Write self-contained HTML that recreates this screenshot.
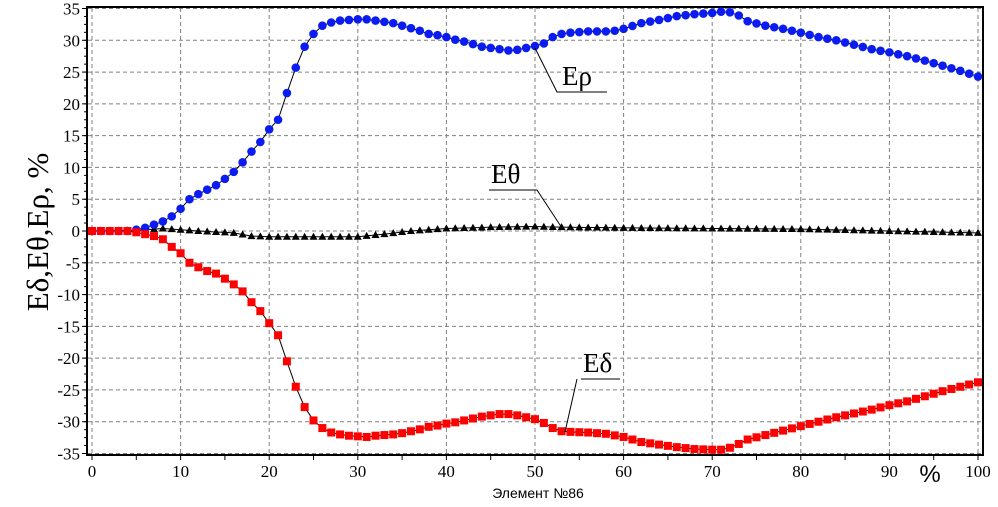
<!DOCTYPE html>
<html><head><meta charset="utf-8"><style>body{margin:0;background:#fff}svg{display:block}</style></head>
<body>
<svg id="s" width="998" height="507" xmlns="http://www.w3.org/2000/svg" font-family="Liberation Serif, serif">
<rect width="998" height="507" fill="#fff"/>
<g id="grid" stroke="#808080" stroke-dasharray="4,3" stroke-width="1"></g>
<rect x="87" y="7" width="896" height="448" fill="none" stroke="#000" stroke-width="2"/>
<g id="ticks" stroke="#000"></g>
<g id="labels" font-size="17" fill="#000"></g>
<g id="series"></g>
<text x="0" y="0" font-size="31" transform="translate(48,232) rotate(-90)" text-anchor="middle">Eδ,Eθ,Eρ, %</text>
<text x="538" y="498" font-size="14" font-family="Liberation Sans, sans-serif" text-anchor="middle">Элемент №86</text>
<text x="930" y="482" font-size="24" text-anchor="middle" font-family="Liberation Sans, sans-serif">%</text>
<g stroke="#000" stroke-width="1" fill="none">
<polyline points="607,92 557,92 535,48"/>
<polyline points="489,190 537,190 562,228"/>
<polyline points="581,379 620,379"/><polyline points="577,379 565,432"/>
</g>
<g font-size="27" fill="#000">
<text x="562" y="85">Eρ</text>
<text x="491" y="183">Eθ</text>
<text x="583" y="372">Eδ</text>
</g>
</svg>
<script>
const X=v=>92+v*8.86, Y=v=>231-v*6.357;
const ns="http://www.w3.org/2000/svg";
function el(p,t,a){const e=document.createElementNS(ns,t);for(const k in a)e.setAttribute(k,a[k]);p.appendChild(e);return e;}
const g=document.getElementById('grid'),tk=document.getElementById('ticks'),lb=document.getElementById('labels');
for(let i=0;i<=10;i++){el(g,'line',{x1:X(i*10),x2:X(i*10),y1:8,y2:454});
 const t=el(lb,'text',{x:X(i*10),y:477,'text-anchor':'middle'});t.textContent=i*10;}
for(let i=0;i<=20;i++){el(tk,'line',{x1:X(i*5),x2:X(i*5),y1:455,y2:460});}
for(let v=-35;v<=35;v+=5){el(g,'line',{x1:88,x2:982,y1:Y(v),y2:Y(v)});
 el(tk,'line',{x1:82,x2:87,y1:Y(v),y2:Y(v)});
 const t=el(lb,'text',{x:80,y:Y(v)+6,'text-anchor':'end'});t.textContent=v;}
for(let v=-35;v<35;v+=1.25){el(tk,'line',{x1:84,x2:87,y1:Y(v),y2:Y(v)});}
function interp(o){const k=Object.keys(o).map(Number).sort((a,b)=>a-b);const r=[];
 for(let x=0;x<=100;x++){let i=0;while(i<k.length-1&&k[i+1]<x)i++;const a=k[i],b=k[Math.min(i+1,k.length-1)];
 r.push(b==a?o[a]:o[a]+(o[b]-o[a])*(x-a)/(b-a));}return r;}
const rho=interp({0:0,4:0,5:0.2,6:0.5,7:1,8:1.5,9:2.3,10:3.5,11:5,12:5.8,13:6.5,14:7.2,15:8.2,16:9.3,17:10.8,18:12.5,19:14,20:16,21:17.5,22:21.7,23:25.7,24:29,25:31,26:32.3,27:32.8,28:33.1,29:33.2,30:33.3,31:33.3,32:33.1,33:32.9,34:32.7,35:32.3,36:31.9,37:31.5,38:31,39:30.8,40:30.5,41:30.1,42:29.8,43:29.4,44:29,45:28.8,46:28.6,47:28.4,48:28.5,49:28.8,50:29.1,51:29.5,52:30.5,53:31,54:31.2,55:31.3,56:31.4,58:31.4,59:31.5,60:31.8,62:32.7,64:33.2,66:33.8,68:34.1,70:34.3,71:34.5,72:34.4,73:33.9,74:33,76:32.3,78:31.8,80:31.2,82:30.5,84:30,86:29.3,88:28.6,90:28.1,92:27.5,94:26.8,96:26,98:25.2,100:24.3});
const del=interp({0:0,4:0,5:-0.2,6:-0.5,7:-0.8,8:-1.3,9:-2.5,10:-3.5,11:-5,12:-5.7,13:-6.3,14:-6.7,15:-7.5,16:-8.4,17:-9.5,18:-11.2,19:-12.6,20:-14.5,21:-16.4,22:-20.5,23:-24.5,24:-27.7,25:-29.8,26:-31,27:-31.7,28:-32,29:-32.2,30:-32.3,31:-32.4,32:-32.2,33:-32.1,34:-32,35:-31.8,36:-31.5,37:-31.2,38:-30.8,39:-30.6,40:-30.3,41:-30.1,42:-29.8,43:-29.5,44:-29.2,45:-29,46:-28.8,47:-28.8,48:-29,49:-29.3,50:-29.6,51:-30.2,52:-31,53:-31.5,54:-31.6,56:-31.7,57:-31.8,58:-31.9,60:-32.4,62:-33.2,64:-33.6,66:-34,68:-34.3,70:-34.4,71:-34.4,72:-34.1,73:-33.5,74:-32.8,76:-32.1,78:-31.4,80:-30.7,82:-30,84:-29.3,86:-28.7,88:-28.1,90:-27.4,92:-26.8,94:-26,96:-25.2,98:-24.5,100:-23.8});
const th=interp({0:0,5:0.1,8:0.4,12:0,16:-0.3,18:-0.8,20:-0.9,30:-0.9,33:-0.5,36:0,40:0.4,45:0.6,50:0.7,53:0.6,60:0.5,70:0.4,80:0.3,90:0,100:-0.3});
const s=document.getElementById('series');
function line(d){el(s,'polyline',{points:d.map((v,i)=>X(i)+','+Y(v)).join(' '),fill:'none',stroke:'#000','stroke-width':1});}
line(th);line(rho);line(del);
th.forEach((v,i)=>{const x=X(i),y=Y(v);el(s,'polygon',{points:`${x-4},${y+3} ${x+4},${y+3} ${x},${y-4}`,fill:'#000'});});
rho.forEach((v,i)=>el(s,'circle',{cx:X(i),cy:Y(v),r:4.3,fill:'#0a1cf0'}));
del.forEach((v,i)=>el(s,'rect',{x:X(i)-4,y:Y(v)-4,width:8,height:8,fill:'#f00'}));
</script>
</body></html>
